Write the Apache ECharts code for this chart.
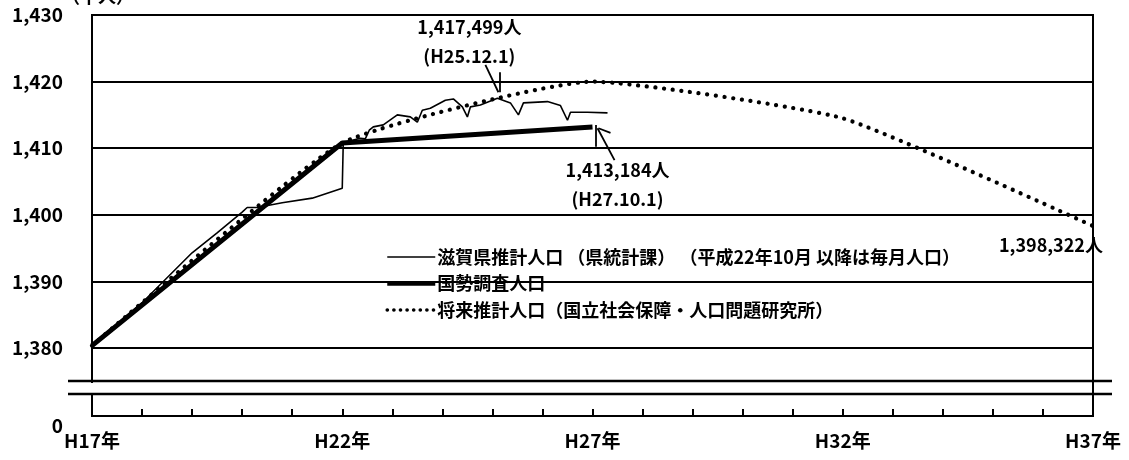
<!DOCTYPE html>
<html>
<head>
<meta charset="utf-8">
<script src="https://cdn.jsdelivr.net/npm/echarts@6/dist/echarts.min.js"></script>
<style>
html,body{margin:0;padding:0;background:#fff;}
#c{width:1129px;height:460px;}
</style>
</head>
<body>
<div id="c"></div>
<script>
// ---- data (x = years since H17) ----
const xTickLabels = ['H17年', 'H22年', 'H27年', 'H32年', 'H37年'];
const yTickValues = [1380, 1390, 1400, 1410, 1420, 1430];
const seriesNames = ['滋賀県推計人口 （県統計課） （平成22年10月 以降は毎月人口）', '国勢調査人口', '将来推計人口（国立社会保障・人口問題研究所）'];

const estYears = [0, 1, 2, 2.5, 3, 3.1, 3.3, 3.8, 4.4, 5.0, 5.02, 5.1, 5.36, 5.46, 5.54, 5.62, 5.82, 6.10, 6.36, 6.50, 6.60, 6.76, 7.06, 7.22, 7.40, 7.50, 7.56, 7.76, 8.10, 8.36, 8.52, 8.62, 9.10, 9.36, 9.50, 9.56, 9.90, 10.30];
const estValues = [1380.4, 1386.8, 1394.3, 1397.3, 1400.4, 1401.1, 1401.1, 1401.8, 1402.5, 1404.0, 1410.8, 1411.0, 1411.5, 1411.4, 1412.7, 1413.2, 1413.5, 1415.0, 1414.7, 1413.9, 1415.7, 1416.0, 1417.2, 1417.4, 1416.2, 1414.7, 1416.2, 1416.5, 1417.5, 1416.8, 1415.0, 1416.8, 1417.0, 1416.4, 1414.2, 1415.4, 1415.4, 1415.3];

const censusYears = [0, 5, 10];
const censusValues = [1380.361, 1410.777, 1413.184];

const projYears = [0, 5, 10, 15, 20];
const projValues = [1380.361, 1410.777, 1420.0, 1414.5, 1398.322];

const annotations = [
  {text: '1,417,499人\n(H25.12.1)', at: [7.54, 1425.95]},
  {text: '1,413,184人\n(H27.10.1)', at: [10.5, 1404.6]},
  {text: '1,398,322人', at: [19.16, 1395.47]}
];
const arrowSegments = [
  [[7.86, 1422.5], [8.12, 1418.4]],
  [[8.14, 1421.4], [8.14, 1418.4]],
  [[10.06, 1413.5], [10.06, 1410.2]],
  [[10.1, 1413.0], [10.44, 1408.2]],
  [[10.12, 1413.0], [10.36, 1412.3]]
];

const zip = (xs, ys) => xs.map((x, i) => [x, ys[i]]);
const FONT = '"Noto Sans CJK JP", "Noto Sans", sans-serif';

const thinStyle = {color: '#000', width: 1.6};
const thickStyle = {color: '#000', width: 5};
const dotStyle = {color: '#000', width: 4.2, type: [0.1, 8.6], cap: 'round'};

const chart = echarts.init(document.getElementById('c'), null, {renderer: 'canvas'});
chart.setOption({
  animation: false,
  backgroundColor: '#fff',
  textStyle: {fontFamily: FONT, color: '#000'},
  grid: [
    {left: 92, right: 36, top: 15, bottom: 112, show: true, borderColor: '#000', borderWidth: 2, containLabel: false, outerBoundsMode: 'none'},
    {left: 92, right: 36, top: 348, bottom: 44, show: true, borderColor: '#000', borderWidth: 2, containLabel: false, outerBoundsMode: 'none'}
  ],
  xAxis: [
    {gridIndex: 0, type: 'value', min: 0, max: 20, show: false},
    {gridIndex: 1, type: 'value', min: 0, max: 20, interval: 1,
     axisLine: {show: true, lineStyle: {color: '#000', width: 2}},
     axisTick: {show: true, inside: true, length: 7, lineStyle: {color: '#000', width: 2}},
     splitLine: {show: false},
     axisLabel: {margin: 15, color: '#000', fontSize: 19, fontWeight: 'bold', fontFamily: FONT,
       formatter: v => (v % 5 === 0 ? xTickLabels[v / 5] : '')}}
  ],
  yAxis: [
    {gridIndex: 0, type: 'value', min: yTickValues[0], max: yTickValues[yTickValues.length - 1], interval: 10,
     name: '（千人）', nameLocation: 'end', nameGap: 9,
     nameTextStyle: {fontSize: 18, fontWeight: 'bold', color: '#000', fontFamily: FONT, align: 'left', padding: [0, 0, 0, -30]},
     axisLine: {show: true, lineStyle: {color: '#000', width: 2}},
     axisTick: {show: false},
     splitLine: {show: true, lineStyle: {color: '#000', width: 2}},
     axisLabel: {margin: 29, color: '#000', fontSize: 19, fontWeight: 'bold', fontFamily: FONT,
       formatter: v => v.toLocaleString('en-US')}},
    {gridIndex: 1, type: 'value', min: 0, max: 1, interval: 1,
     axisLine: {show: true, lineStyle: {color: '#000', width: 2}},
     axisTick: {show: false},
     splitLine: {show: false},
     axisLabel: {margin: 29, color: '#000', fontSize: 19, fontWeight: 'bold', fontFamily: FONT, verticalAlign: 'top',
       formatter: v => (v === 0 ? '0' : '')}}
  ],
  legend: {
    left: 380, top: 243, orient: 'vertical', itemWidth: 48, itemHeight: 16, itemGap: 8.5,
    selectedMode: false,
    itemStyle: {opacity: 0},
    textStyle: {fontSize: 18, lineHeight: 16, fontWeight: 'bold', color: '#000', fontFamily: FONT, padding: [0, 0, 0, -3]},
    data: [
      {name: seriesNames[0], lineStyle: thinStyle},
      {name: seriesNames[1], lineStyle: {color: '#000', width: 4.5}},
      {name: seriesNames[2], lineStyle: {color: '#000', width: 3.6, type: [0.1, 6.5], cap: 'round'}}
    ]
  },
  series: [
    {name: seriesNames[2], type: 'line', xAxisIndex: 0, yAxisIndex: 0, data: zip(projYears, projValues),
     smooth: 0.15, symbol: 'none', z: 2,
     lineStyle: dotStyle,
     itemStyle: {color: '#000'}},
    {name: seriesNames[1], type: 'line', xAxisIndex: 0, yAxisIndex: 0, data: zip(censusYears, censusValues),
     symbol: 'none', z: 3,
     lineStyle: thickStyle,
     itemStyle: {color: '#000'},
     markLine: {silent: true, symbol: ['none', 'none'], label: {show: false},
       lineStyle: {color: '#000', width: 1.8, type: 'solid'},
       data: arrowSegments.map(s => [{coord: s[0]}, {coord: s[1]}])},
     markPoint: {silent: true, symbol: 'circle', symbolSize: 1, itemStyle: {color: 'rgba(0,0,0,0)'},
       label: {show: true, position: 'inside', color: '#000', fontSize: 18, fontWeight: 'bold', lineHeight: 29, fontFamily: FONT,
         formatter: p => p.name},
       data: annotations.map(a => ({name: a.text, coord: a.at}))}},
    {name: seriesNames[0], type: 'line', xAxisIndex: 0, yAxisIndex: 0, data: zip(estYears, estValues),
     symbol: 'none', z: 4,
     lineStyle: thinStyle,
     itemStyle: {color: '#000'}}
  ],
  graphic: [
    {type: 'rect', shape: {x: 70, y: 383, width: 1020, height: 10}, style: {fill: '#fff'}, z: 100},
    {type: 'line', shape: {x1: 68, y1: 381, x2: 1112, y2: 381}, style: {stroke: '#000', lineWidth: 2.5}, z: 101},
    {type: 'line', shape: {x1: 68, y1: 394, x2: 1112, y2: 394}, style: {stroke: '#000', lineWidth: 2.5}, z: 101}
  ]
});
</script>
</body>
</html>
